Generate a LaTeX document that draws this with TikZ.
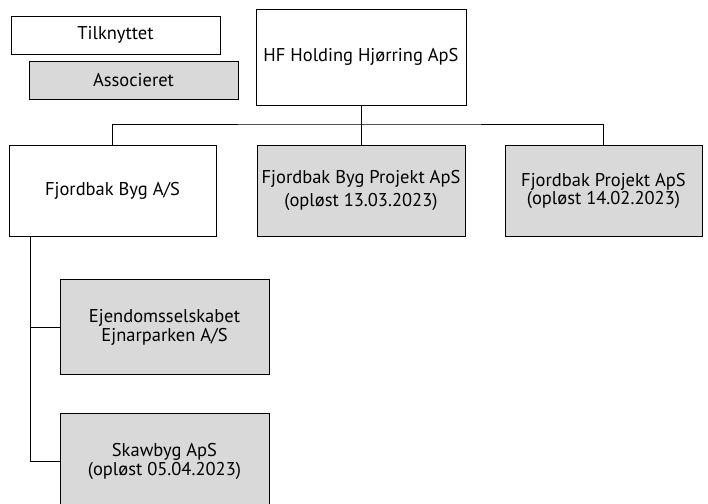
\documentclass[tikz,border=0pt]{standalone}
\usepackage{fontspec}
\setmainfont{PT Sans}
\definecolor{boxgray}{HTML}{D9D9D9}
\begin{document}
\begin{tikzpicture}[x=1pt,y=-1pt,
  box/.style={draw=black,line width=0.9pt,rectangle,inner sep=0pt,align=center,
    font=\fontsize{18.5}{20}\selectfont},
  assoc/.style={box,fill=boxgray},
  conn/.style={draw=black,line width=0.9pt}]
\useasboundingbox (0,0) rectangle (708,503);
\begin{scope}
\clip (0,0) rectangle (708,503);
\node[box,minimum width=209pt,minimum height=38pt] (tilk) at (115.5,35) {Tilknyttet};
\node[assoc,minimum width=209pt,minimum height=38pt] (assoc) at (133.5,80) {Associeret};
\node[box,minimum width=210pt,minimum height=96pt] (hf) at (361,57) {HF Holding Hjørring ApS};
\node[box,minimum width=207pt,minimum height=91pt] (fbyg) at (112.5,190.5) {Fjordbak Byg A/S};
\node[assoc,minimum width=208pt,minimum height=91pt,font=\fontsize{18.5}{23}\selectfont] (fbp) at (361,190.5) {Fjordbak Byg Projekt ApS\\(opløst 13.03.2023)};
\node[assoc,minimum width=197pt,minimum height=91pt,font=\fontsize{18.5}{17}\selectfont] (fp) at (603.5,190.5) {Fjordbak Projekt ApS\\(opløst 14.02.2023)};
\node[assoc,minimum width=209pt,minimum height=95pt,font=\fontsize{18.5}{19}\selectfont] (ejd) at (164.5,327) {Ejendomsselskabet\\Ejnarparken A/S};
\node[assoc,minimum width=209pt,minimum height=96pt,font=\fontsize{18.5}{19}\selectfont] (skaw) at (164.5,461) {Skawbyg ApS\\(opløst 05.04.2023)};
\coordinate (bus) at (361,124);
\coordinate (trunk) at (30,236);
\draw[conn] (hf.south) -- (bus);
\draw[conn] (fbyg.north) |- (bus) -| (fp.north);
\draw[conn] (bus) -- (fbp.north);
\draw[conn] (trunk) |- (ejd.west);
\draw[conn] (trunk) |- (skaw.west);
\end{scope}
\end{tikzpicture}
\end{document}
